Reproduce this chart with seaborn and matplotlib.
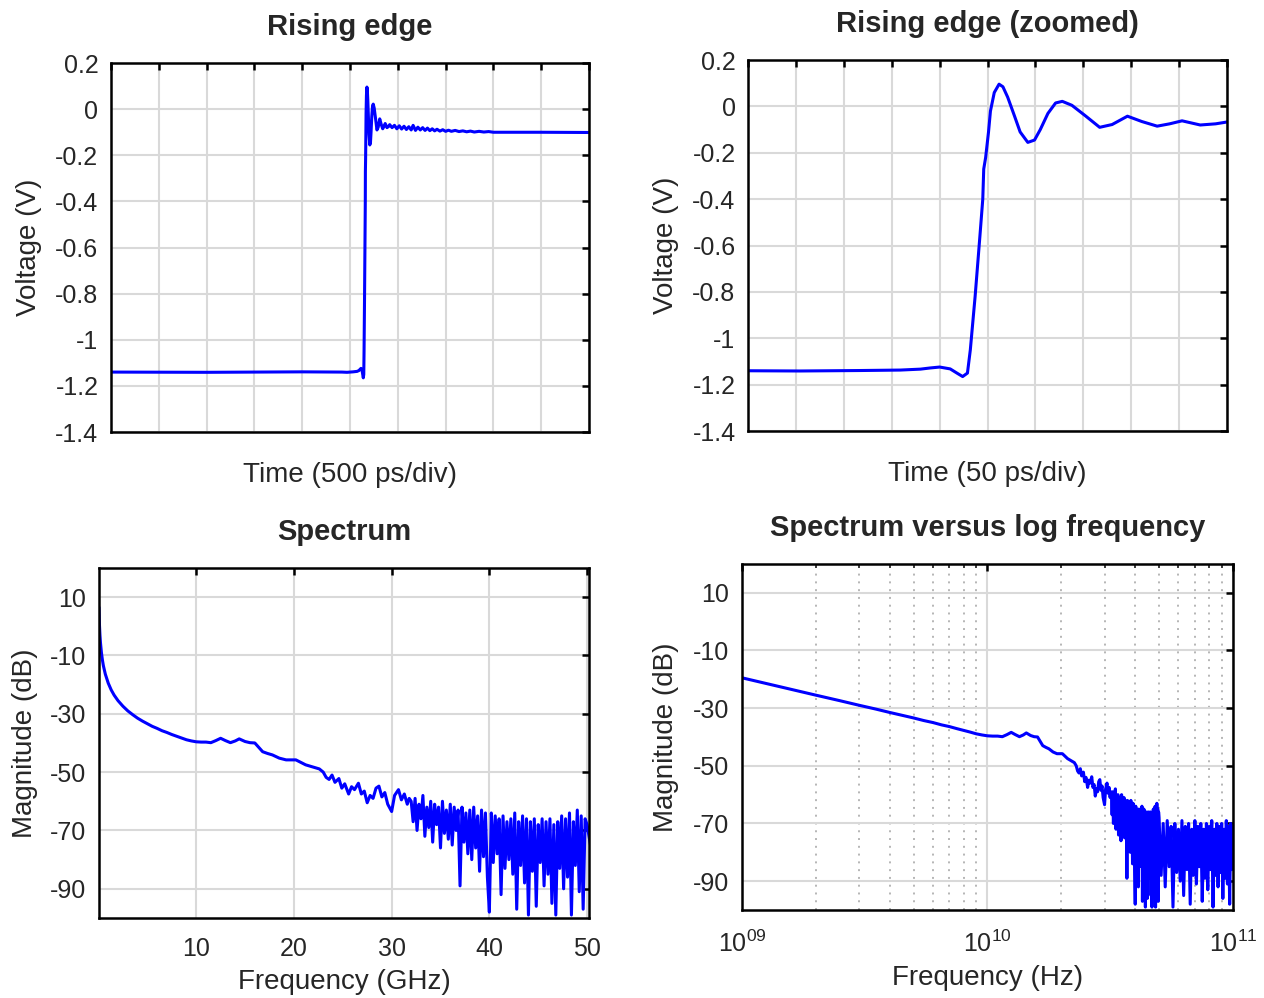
import numpy as np
import matplotlib
matplotlib.use("Agg")
import matplotlib.pyplot as plt
import matplotlib.ticker as mticker
import seaborn as sns

# --- trace du front montant (ps, V) ---
time_ps = [0, 1000, 2000, 2415, 2469, 2532, 2574, 2595, 2605, 2615, 2626, 2633,
           2639, 2644, 2647, 2652, 2657, 2660, 2661, 2663, 2666, 2668, 2672,
           2677, 2681, 2686, 2693, 2699, 2707, 2714, 2720, 2728, 2736, 2743,
           2753, 2767, 2782, 2795, 2811, 2826, 2842, 2855, 2868, 2887, 2903,
           2915, 2940, 2965, 2990, 3015, 3040, 3065, 3090, 3115, 3140, 3160,
           3185, 3210, 3235, 3260, 3285, 3310, 3335, 3360, 3385, 3410, 3440,
           3470, 3500, 3530, 3560, 3600, 3640, 3680, 3720, 3760, 3800, 3850,
           3900, 3950, 4000, 4500, 5000]
voltage = [-1.140, -1.141, -1.139, -1.140, -1.141, -1.139, -1.137, -1.133,
           -1.128, -1.124, -1.132, -1.150, -1.165, -1.150, -1.050, -0.820,
           -0.560, -0.400, -0.270, -0.220, -0.110, -0.020, 0.060, 0.096,
           0.085, 0.040, -0.040, -0.110, -0.155, -0.145, -0.100, -0.030,
           0.015, 0.022, 0.005, -0.040, -0.090, -0.078, -0.042, -0.065,
           -0.085, -0.075, -0.062, -0.080, -0.075, -0.067, -0.080, -0.070,
           -0.085, -0.072, -0.086, -0.074, -0.088, -0.076, -0.090, -0.070,
           -0.092, -0.078, -0.090, -0.080, -0.092, -0.082, -0.093, -0.085,
           -0.094, -0.087, -0.095, -0.089, -0.096, -0.091, -0.096, -0.092,
           -0.097, -0.094, -0.098, -0.095, -0.099, -0.096, -0.099, -0.097,
           -0.100, -0.100, -0.101]
zoom_start_ps = 2415

# --- spectre: partie lisse (GHz, dB) ---
freq_smooth_ghz = [0.05, 0.07, 0.1, 0.15, 0.2, 0.3, 0.4, 0.5, 0.7, 1.0, 1.3, 1.6,
                   2.0, 2.5, 3.0, 3.5, 4.0, 4.5, 5.0, 5.5, 6.0, 6.5, 7.0, 7.5,
                   8.0, 8.5, 9.0, 9.5, 10.0, 10.5, 11.0, 11.5, 12.0, 12.5, 13.0,
                   13.5, 14.0, 14.4, 15.0, 15.5, 16.0, 16.4, 16.8, 17.3, 17.8,
                   18.5, 19.2, 20.2, 21.2, 22.0, 22.6, 23.0, 23.3, 23.6, 23.9,
                   24.2, 24.6, 24.9, 25.2, 25.6, 25.9, 26.2, 26.6, 26.9, 27.2,
                   27.5, 27.8, 28.1, 28.4, 28.7, 29.0, 29.3, 29.6, 30.0, 30.3,
                   30.7, 31.0, 31.3, 31.6, 31.8]
mag_smooth_db = [6.5, 3.6, 0.5, -3.0, -5.5, -9.0, -11.5, -13.5, -16.4, -19.5,
                 -21.8, -23.6, -25.5, -27.4, -29.0, -30.3, -31.5, -32.5, -33.4,
                 -34.3, -35.0, -35.8, -36.4, -37.1, -37.7, -38.3, -38.9, -39.3,
                 -39.6, -39.7, -39.7, -39.9, -39.2, -38.4, -39.2, -39.9, -39.3,
                 -38.6, -39.5, -39.9, -40.0, -41.5, -43.0, -43.6, -44.1, -45.2,
                 -45.8, -45.8, -47.5, -48.3, -48.9, -50.0, -51.8, -52.5, -51.0,
                 -53.5, -52.2, -55.5, -54.0, -57.5, -55.0, -56.0, -53.8, -57.5,
                 -56.5, -60.5, -58.0, -59.0, -55.5, -54.8, -58.5, -57.0, -61.0,
                 -63.5, -58.0, -56.0, -59.5, -57.5, -61.0, -59.0]

# --- spectre: plancher de bruit, 32 a 50 GHz par pas de 0.2 GHz ---
mag_noise_a_db = [-60, -67, -59, -70, -61, -66, -58, -72, -62, -69,
                  -60, -74, -61, -68, -62, -76, -60, -71, -63, -73,
                  -61, -75, -62, -70, -63, -89, -62, -74, -64, -78,
                  -63, -80, -62, -76, -65, -84, -63, -79, -64, -86,
                  -98, -64, -81, -65, -78, -66, -92, -65, -83, -67,
                  -80, -66, -85, -64, -97, -67, -82, -65, -88, -66,
                  -99, -67, -84, -66, -96, -68, -81, -66, -89, -67,
                  -85, -66, -95, -68, -99, -67, -83, -65, -90, -66,
                  -86, -64, -99, -67, -82, -63, -91, -65, -97, -66]
# --- 50 a 100 GHz par pas de 1 GHz ---
mag_noise_b_db = [-68, -88, -70, -92, -69, -85, -71, -99, -70, -87,
                  -72, -90, -69, -95, -71, -86, -70, -98, -72, -88,
                  -69, -91, -71, -85, -70, -97, -72, -89, -70, -93,
                  -71, -86, -69, -99, -72, -88, -70, -92, -71, -87,
                  -70, -96, -72, -89, -69, -91, -71, -98, -70, -86,
                  -71]

BLUE = "#0000ff"
GRID = "#d9d9d9"
TICK_FS = 18
LABEL_FS = 20
TITLE_FS = 21


def style_axes(ax):
    """Cadre noir, ticks vers l'interieur sur les 4 cotes (style Octave)."""
    for sp in ax.spines.values():
        sp.set_visible(True)
        sp.set_color("black")
        sp.set_linewidth(1.8)
    ax.tick_params(which="major", direction="in", length=5, width=1.8,
                   top=True, right=True, labelsize=TICK_FS, colors="black",
                   labelcolor="#262626", pad=9)
    ax.tick_params(which="minor", direction="in", length=3, width=1.2,
                   top=True, right=True)
    ax.grid(True, which="major", color=GRID, linewidth=1.5, linestyle="-")
    ax.set_axisbelow(True)


def fmt_g(v, pos):
    return "%g" % (round(v, 6) + 0.0)


def plot_edge(ax, zoomed=False):
    sns.lineplot(x=time_ps, y=voltage, ax=ax, color=BLUE, linewidth=2.2,
                 estimator=None, sort=False)
    if zoomed:
        ax.set_xlim(zoom_start_ps, zoom_start_ps + 500)
        ax.set_xticks([zoom_start_ps + 50 * k for k in range(11)])
        ax.set_title("Rising edge (zoomed)", fontsize=TITLE_FS, fontweight="bold", pad=20)
        ax.set_xlabel("Time (50 ps/div)", fontsize=LABEL_FS)
    else:
        ax.set_xlim(0, 5000)
        ax.set_xticks(np.arange(0, 5001, 500))
        ax.set_title("Rising edge", fontsize=TITLE_FS, fontweight="bold", pad=20)
        ax.set_xlabel("Time (500 ps/div)", fontsize=LABEL_FS)
    ax.set_xticklabels([])
    ax.set_ylim(-1.4, 0.2)
    ax.set_yticks(np.arange(-1.4, 0.21, 0.2))
    ax.yaxis.set_major_formatter(mticker.FuncFormatter(fmt_g))
    ax.set_ylabel("Voltage (V)", fontsize=LABEL_FS)
    style_axes(ax)
    ax.xaxis.set_label_coords(0.5, -0.08)
    ax.yaxis.set_label_coords(-0.144, 0.5)


def spectrum_arrays():
    f_noise = np.concatenate([np.arange(32.0, 49.9, 0.2), np.arange(50.0, 100.5, 1.0)])
    f = np.concatenate([freq_smooth_ghz, f_noise])
    m = np.concatenate([mag_smooth_db, mag_noise_a_db, mag_noise_b_db])
    return f, m


def plot_spectrum(ax):
    f, m = spectrum_arrays()
    sns.lineplot(x=f, y=m, ax=ax, color=BLUE, linewidth=2.2,
                 estimator=None, sort=False)
    ax.set_xlim(0.05, 50.2)
    ax.set_xticks([10, 20, 30, 40, 50])
    ax.set_ylim(-100, 20)
    ax.set_yticks(np.arange(-90, 11, 20))
    ax.set_title("Spectrum", fontsize=TITLE_FS, fontweight="bold", pad=20)
    ax.set_xlabel("Frequency (GHz)", fontsize=LABEL_FS)
    ax.set_ylabel("Magnitude (dB)", fontsize=LABEL_FS)
    style_axes(ax)
    ax.tick_params(axis="x", which="major", pad=14)
    ax.xaxis.set_label_coords(0.5, -0.145)
    ax.yaxis.set_label_coords(-0.124, 0.5)


def plot_spectrum_log(ax):
    f, m = spectrum_arrays()
    sns.lineplot(x=f * 1e9, y=m, ax=ax, color=BLUE, linewidth=2.2,
                 estimator=None, sort=False)
    ax.set_xscale("log")
    ax.set_xlim(1e9, 1e11)
    ax.set_xticks([1e9, 1e10, 1e11])
    ax.xaxis.set_major_formatter(mticker.FixedFormatter(
        [r"$10^{09}$", r"$10^{10}$", r"$10^{11}$"]))
    ax.xaxis.set_minor_locator(mticker.LogLocator(base=10, subs=np.arange(2, 10)))
    ax.xaxis.set_minor_formatter(mticker.NullFormatter())
    ax.set_ylim(-100, 20)
    ax.set_yticks(np.arange(-90, 11, 20))
    ax.set_title("Spectrum versus log frequency", fontsize=TITLE_FS,
                 fontweight="bold", pad=20)
    ax.set_xlabel("Frequency (Hz)", fontsize=LABEL_FS)
    ax.set_ylabel("Magnitude (dB)", fontsize=LABEL_FS)
    style_axes(ax)
    ax.grid(True, which="minor", axis="x", color="#b5b5b5", linewidth=1.4,
            linestyle=(0, (1, 3)))
    ax.tick_params(axis="x", which="major", pad=15)
    ax.xaxis.set_label_coords(0.5, -0.16)
    ax.yaxis.set_label_coords(-0.128, 0.5)


def main():
    sns.set_theme(style="white")
    plt.rcParams["font.family"] = ["Liberation Sans", "DejaVu Sans"]
    plt.rcParams["axes.unicode_minus"] = False
    plt.rcParams["mathtext.default"] = "regular"

    fig = plt.figure(figsize=(12.64, 9.98), dpi=100)
    fig.patch.set_facecolor("white")
    ax_tl = fig.add_axes([0.0878, 0.5671, 0.3782, 0.3697])
    ax_tr = fig.add_axes([0.5918, 0.5681, 0.3790, 0.3717])
    ax_bl = fig.add_axes([0.0783, 0.0802, 0.3877, 0.3507])
    ax_br = fig.add_axes([0.5870, 0.0882, 0.3884, 0.3467])

    plot_edge(ax_tl)
    plot_edge(ax_tr, zoomed=True)
    plot_spectrum(ax_bl)
    plot_spectrum_log(ax_br)

    fig.savefig("out.png", dpi=100, facecolor="white")


if __name__ == "__main__":
    main()
